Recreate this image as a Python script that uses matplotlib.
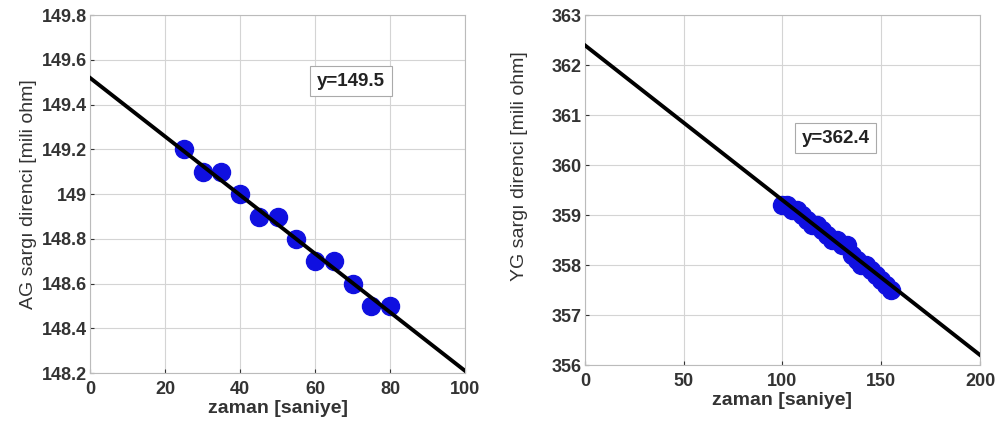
import matplotlib
matplotlib.use("Agg")
import matplotlib.pyplot as plt

plt.rcParams['font.family'] = ['Liberation Sans', 'DejaVu Sans']

# left panel: AG winding
t_ag = [25, 30, 35, 40, 45, 50, 55, 60, 65, 70, 75, 80]
r_ag = [149.2, 149.1, 149.1, 149.0, 148.9, 148.9, 148.8, 148.7, 148.7, 148.6, 148.5, 148.5]
fit_ag_x = [0, 100]
fit_ag_y = [149.52, 148.21]

# right panel: YG winding
t_yg = [100, 102.5, 105, 107.5, 110, 112.5, 115, 117.5, 120, 122.5, 125, 127.5,
        130, 132.5, 135, 137.5, 140, 142.5, 145, 147.5, 150, 152.5, 155]
r_yg = [359.2, 359.2, 359.1, 359.1, 359.0, 358.9, 358.8, 358.8, 358.7, 358.6, 358.5, 358.5,
        358.4, 358.4, 358.2, 358.1, 358.0, 358.0, 357.9, 357.8, 357.7, 357.6, 357.5]
fit_yg_x = [0, 200]
fit_yg_y = [362.4, 356.2]

ag_xticks = [0, 20, 40, 60, 80, 100]
ag_yticks = [148.2, 148.4, 148.6, 148.8, 149.0, 149.2, 149.4, 149.6, 149.8]
ag_ylabels = ['148.2', '148.4', '148.6', '148.8', '149', '149.2', '149.4', '149.6', '149.8']
yg_xticks = [0, 50, 100, 150, 200]
yg_yticks = [356, 357, 358, 359, 360, 361, 362, 363]

fig = plt.figure(figsize=(9.98, 4.23), dpi=100)
ax1 = fig.add_axes([0.0902, 0.118, 0.3758, 0.846])
ax2 = fig.add_axes([0.586, 0.137, 0.396, 0.827])


def style(ax, xt, yt, ylabels, xlabel, ylabel):
    ax.set_xticks(xt)
    ax.set_yticks(yt)
    if ylabels is not None:
        ax.set_yticklabels(ylabels)
    ax.grid(True, color='#d4d4d4', linewidth=0.8)
    ax.set_axisbelow(True)
    ax.tick_params(direction='in', length=3, labelsize=13, colors='#333333')
    ax.tick_params(axis='x', pad=6)
    ax.tick_params(axis='y', pad=2)
    for lab in ax.get_xticklabels() + ax.get_yticklabels():
        lab.set_fontweight('bold')
    for s in ax.spines.values():
        s.set_color('#bbbbbb')
    ax.set_xlabel(xlabel, fontsize=14, fontweight='bold', color='#333333', labelpad=1)
    ax.set_ylabel(ylabel, fontsize=14, color='#333333', labelpad=4)


ax1.plot(t_ag, r_ag, 'o', color='#1010e0', markersize=13, zorder=2)
ax1.plot(fit_ag_x, fit_ag_y, '-', color='black', linewidth=2.8, zorder=3)
ax1.set_xlim(0, 100)
ax1.set_ylim(148.2, 149.8)
style(ax1, ag_xticks, ag_yticks, ag_ylabels, 'zaman [saniye]', 'AG sargı direnci [mili ohm]')
ax1.text(69.6, 149.505, 'y=149.5', fontsize=13.5, fontweight='bold', color='#222222',
         ha='center', va='center',
         bbox=dict(boxstyle='square,pad=0.35', facecolor='white', edgecolor='#aaaaaa', linewidth=0.8))

ax2.plot(t_yg, r_yg, 'o', color='#1010e0', markersize=13, zorder=2)
ax2.plot(fit_yg_x, fit_yg_y, '-', color='black', linewidth=2.8, zorder=3)
ax2.set_xlim(0, 200)
ax2.set_ylim(356, 363)
style(ax2, yg_xticks, yg_yticks, None, 'zaman [saniye]', 'YG sargı direnci [mili ohm]')
ax2.yaxis.set_label_coords(-0.145, 0.57)
ax2.text(127, 360.54, 'y=362.4', fontsize=13.5, fontweight='bold', color='#222222',
         ha='center', va='center',
         bbox=dict(boxstyle='square,pad=0.35', facecolor='white', edgecolor='#aaaaaa', linewidth=0.8))

fig.savefig('out.png', dpi=100)
